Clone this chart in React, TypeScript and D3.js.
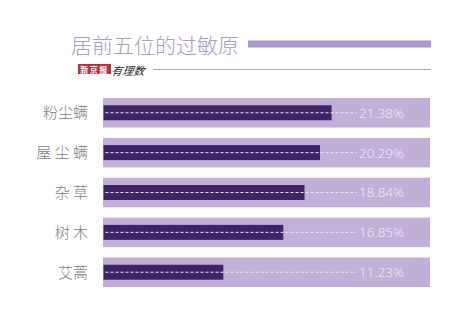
import React, { useEffect, useRef } from 'react';
import * as d3 from 'd3';

const categories = ['粉尘螨', '屋 尘 螨', '杂 草', '树 木', '艾蒿'];
const values = [21.38, 20.29, 18.84, 16.85, 11.23];
const valueLabels = ['21.38%', '20.29%', '18.84%', '16.85%', '11.23%'];

const App = () => {
  const ref = useRef<SVGSVGElement>(null);

  useEffect(() => {
    const svg = d3.select(ref.current);
    svg.selectAll('*').remove();

    const width = 457;
    const height = 327;

    svg.append('rect').attr('width', width).attr('height', height).attr('fill', '#fff');

    // title
    svg.append('text')
      .attr('x', 71).attr('y', 53)
      .attr('font-family', '"Noto Sans CJK SC", sans-serif')
      .attr('font-size', 21).attr('font-weight', 300)
      .attr('fill', '#a99cc2')
      .text('居前五位的过敏原');
    svg.append('rect')
      .attr('x', 248).attr('y', 40.5).attr('width', 183).attr('height', 7)
      .attr('fill', '#ad98cb');

    // logo
    svg.append('rect')
      .attr('x', 78).attr('y', 64).attr('width', 33).attr('height', 10)
      .attr('fill', '#b0353d');
    svg.append('text')
      .attr('x', 94.5).attr('y', 72.5).attr('text-anchor', 'middle')
      .attr('font-family', '"Noto Sans CJK SC", serif').attr('font-size', 8).attr('font-weight', 700)
      .attr('letter-spacing', 1.5)
      .attr('fill', '#fff').text('新京报');
    svg.append('text')
      .attr('x', 124).attr('y', 75)
      .attr('font-family', '"Noto Sans CJK SC", sans-serif').attr('font-size', 11)
      .attr('font-style', 'italic').attr('transform', 'skewX(-10)')
      .attr('fill', '#222').text('有理数');
    svg.append('line')
      .attr('x1', 153).attr('x2', 431).attr('y1', 69.5).attr('y2', 69.5)
      .attr('stroke', '#a9a9b3').attr('stroke-width', 1);

    const y = d3.scaleBand()
      .domain(categories)
      .range([98, 287])
      .paddingInner(0.26)
      .paddingOuter(0);

    const x = d3.scaleLinear().domain([0, 30.6]).range([103.5, 430]);

    const rows = svg.selectAll('g.row')
      .data(categories)
      .enter().append('g')
      .attr('class', 'row')
      .attr('transform', (d) => `translate(0, ${y(d)})`);

    const bw = y.bandwidth();

    rows.append('rect')
      .attr('x', x(0) - 0.5).attr('y', 0)
      .attr('width', x.range()[1] - x(0) + 0.5).attr('height', bw)
      .attr('fill', '#c1afd7');

    rows.append('rect')
      .attr('x', x(0)).attr('y', bw / 2 - 7.5)
      .attr('width', (d, i) => x(values[i]) - x(0)).attr('height', 15)
      .attr('fill', '#3f2567');

    rows.append('line')
      .attr('x1', x(0) + 2).attr('x2', 357)
      .attr('y1', bw / 2).attr('y2', bw / 2)
      .attr('stroke', '#ece4f5').attr('stroke-width', 1)
      .attr('stroke-dasharray', '3,2');

    rows.append('text')
      .attr('x', 359).attr('y', bw / 2 + 5)
      .attr('font-family', '"Open Sans", sans-serif').attr('font-size', 13.5).attr('font-weight', 300)
      .attr('fill', '#f3eefa')
      .text((d, i) => valueLabels[i]);

    rows.append('text')
      .attr('x', 88).attr('y', bw / 2 + 5.5)
      .attr('text-anchor', 'end')
      .attr('font-family', '"Noto Sans CJK SC", sans-serif').attr('font-size', 15).attr('font-weight', 300)
      .attr('fill', '#7d7d7d')
      .text((d) => d);
  }, []);

  return (
    <svg ref={ref} width={457} height={327} style={{ position: 'absolute', left: 0, top: 0 }} />
  );
};

export default App;
